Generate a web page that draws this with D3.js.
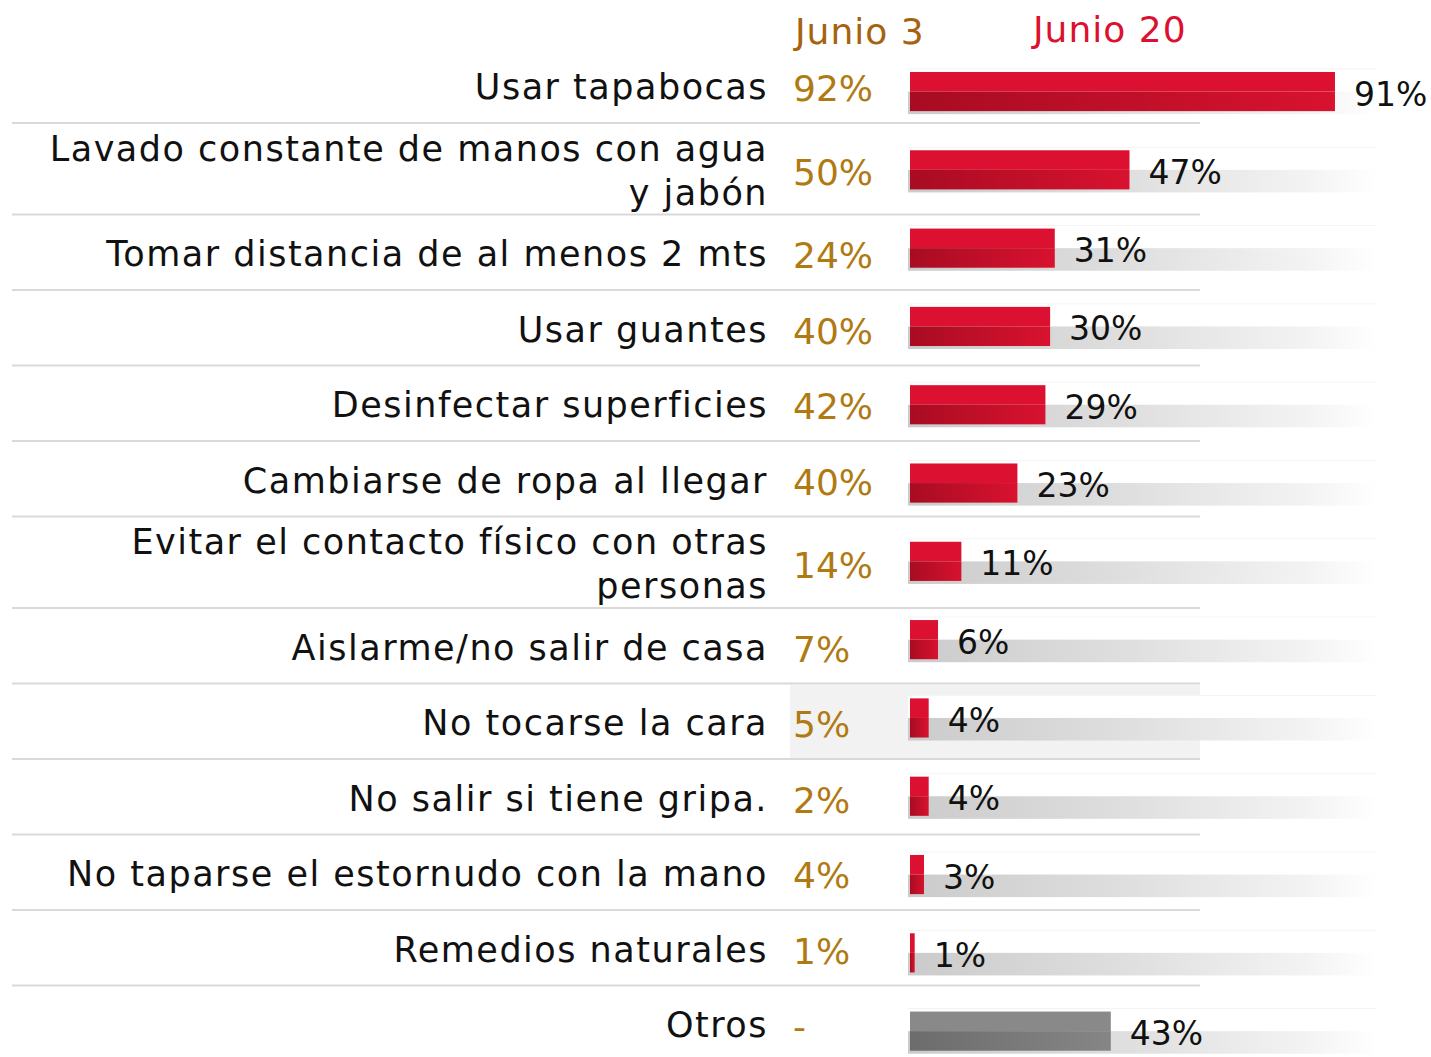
<!DOCTYPE html>
<html>
<head>
<meta charset="utf-8">
<script src="https://cdn.jsdelivr.net/npm/d3@7"></script>
<style>
  body { margin: 0; background: #fff; }
  svg { display: block; }
  text { font-family: 'DejaVu Sans', sans-serif; }
</style>
</head>
<body>
<svg id="chart" width="1431" height="1057"></svg>
<script>
// categories (label lines) and values
const labels = [
  ['Usar tapabocas'],
  ['Lavado constante de manos con agua', 'y jabón'],
  ['Tomar distancia de al menos 2 mts'],
  ['Usar guantes'],
  ['Desinfectar superficies'],
  ['Cambiarse de ropa al llegar'],
  ['Evitar el contacto físico con otras', 'personas'],
  ['Aislarme/no salir de casa'],
  ['No tocarse la cara'],
  ['No salir si tiene gripa.'],
  ['No taparse el estornudo con la mano'],
  ['Remedios naturales'],
  ['Otros']
]
const junio3 = ['92%', '50%', '24%', '40%', '42%', '40%', '14%', '7%', '5%', '2%', '4%', '1%', '-']
const junio20 = [91, 47, 31, 30, 29, 23, 11, 6, 4, 4, 3, 1, 43]
const headers = ['Junio 3', 'Junio 20']
const highlightRow = 8
const grayRow = 12

const svg = d3.select('#chart')
const defs = svg.append('defs')

function grad (id, stops) {
  const g = defs.append('linearGradient').attr('id', id)
    .attr('x1', '0%').attr('x2', '100%').attr('y1', '0%').attr('y2', '0%')
  stops.forEach(s => g.append('stop').attr('offset', s[0]).attr('stop-color', s[1]))
}
grad('track', [['0%', '#cbcbcb'], ['45%', '#dedede'], ['85%', '#f3f3f3'], ['100%', '#ffffff']])
grad('redLow', [['0%', '#a80c22'], ['100%', '#d8122f']])
grad('grayLow', [['0%', '#6c6c6c'], ['100%', '#858585']])

const ids = labels.map((d, i) => i)

// left table rows (two-line rows are taller)
const rowTops = []
let acc = 47.5
labels.forEach(l => {
  rowTops.push(acc)
  acc += l.length > 1 ? 91.5 : 75.5
})
const rowH = l => (l.length > 1 ? 91.5 : 75.5)

// bar scales
const y = d3.scaleBand().domain(ids).range([52.4, 1070.3]).paddingInner(0.5).paddingOuter(0.25)
const x = d3.scaleLinear().domain([0, 100]).range([910, 1377])
const bw = y.bandwidth()

// highlight behind "No tocarse la cara"
svg.append('rect')
  .attr('x', 790).attr('y', rowTops[highlightRow] + 1.5)
  .attr('width', 1200 - 790).attr('height', rowH(labels[highlightRow]) - 1.5)
  .attr('fill', '#f2f2f2')

// separators
svg.selectAll('line.sep')
  .data(ids.slice(1))
  .enter()
  .append('line')
  .attr('class', 'sep')
  .attr('x1', 12).attr('x2', 1200)
  .attr('y1', d => rowTops[d]).attr('y2', d => rowTops[d])
  .attr('stroke', '#d9d9d9').attr('stroke-width', 2)

// headers
svg.append('text').attr('x', 795).attr('y', 44)
  .attr('font-size', 36).attr('letter-spacing', 1).attr('fill', '#a5620f').text(headers[0])
svg.append('text').attr('x', 1033).attr('y', 42)
  .attr('font-size', 36).attr('letter-spacing', 1).attr('fill', '#dc1030').text(headers[1])

// category labels
const lab = svg.selectAll('text.lab')
  .data(ids)
  .enter()
  .append('text')
  .attr('class', 'lab')
  .attr('text-anchor', 'end')
  .attr('font-size', 35)
  .attr('letter-spacing', 1.5)
  .attr('fill', '#111')
lab.selectAll('tspan')
  .data(i => labels[i].map((t, k) => ({ t, k, i })))
  .enter()
  .append('tspan')
  .attr('x', 768)
  .attr('y', d => {
    const c = rowTops[d.i] + rowH(labels[d.i]) / 2
    const n = labels[d.i].length
    return c + (d.k - (n - 1) / 2) * 44 + 14
  })
  .text(d => d.t)

// junio 3 values
svg.selectAll('text.j3')
  .data(ids)
  .enter()
  .append('text')
  .attr('class', 'j3')
  .attr('x', 793)
  .attr('y', i => rowTops[i] + rowH(labels[i]) / 2 + 16)
  .attr('font-size', 36)
  .attr('fill', '#b07a12')
  .text(i => junio3[i])

// tracks
const rows = svg.selectAll('g.row')
  .data(ids)
  .enter()
  .append('g')
  .attr('class', 'row')
  .attr('transform', i => `translate(0,${y(i)})`)

rows.append('rect')
  .attr('x', 908).attr('y', -3)
  .attr('width', x(100) - 908).attr('height', bw / 2 + 3)
  .attr('fill', '#fff')
rows.append('line')
  .attr('x1', 908).attr('x2', x(100)).attr('y1', -3).attr('y2', -3)
  .attr('stroke', '#f4f4f4').attr('stroke-width', 1)
rows.append('rect')
  .attr('x', 908).attr('y', bw / 2)
  .attr('width', x(100) - 908).attr('height', bw / 2 + 3)
  .attr('fill', 'url(#track)')

// bars
rows.append('rect')
  .attr('x', x(0)).attr('y', 0)
  .attr('width', i => x(junio20[i]) - x(0)).attr('height', bw / 2)
  .attr('fill', i => (i === grayRow ? '#898989' : '#dc1030'))
rows.append('rect')
  .attr('x', x(0)).attr('y', bw / 2)
  .attr('width', i => x(junio20[i]) - x(0)).attr('height', bw / 2)
  .attr('fill', i => (i === grayRow ? 'url(#grayLow)' : 'url(#redLow)'))

// junio 20 values
rows.append('text')
  .attr('x', i => x(junio20[i]) + 19)
  .attr('y', bw / 2 + 14)
  .attr('font-size', 33)
  .attr('fill', '#111')
  .text(i => junio20[i] + '%')
</script>
</body>
</html>
